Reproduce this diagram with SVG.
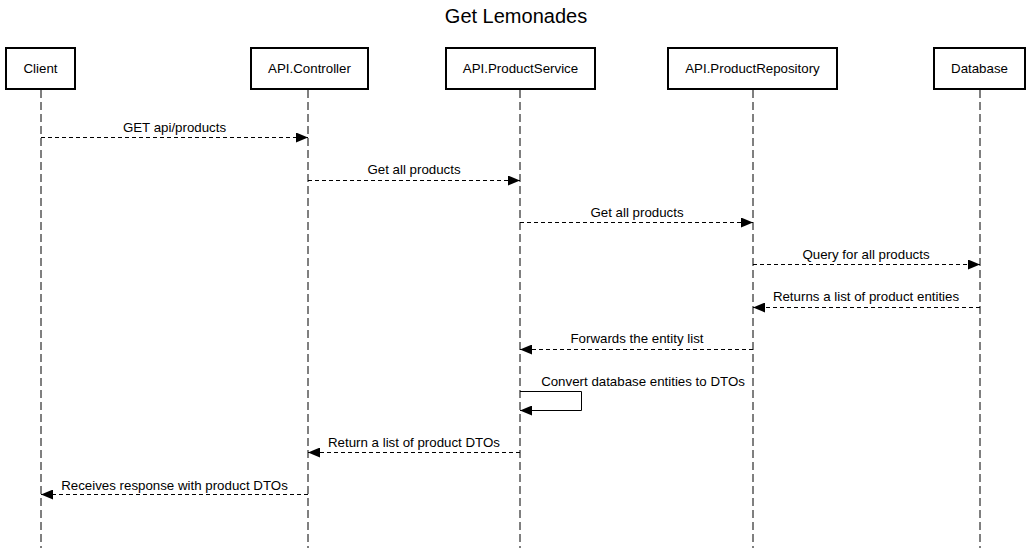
<svg xmlns="http://www.w3.org/2000/svg" width="1032" height="548" viewBox="0 0 1032 548">
<style>
.box{fill:#fff;stroke:#000;stroke-width:2}
.life{stroke:#000;stroke-width:1;stroke-dasharray:8 4;fill:none}
.msg{stroke:#000;stroke-width:1;stroke-dasharray:4 3;fill:none}
.self{stroke:#000;stroke-width:1;fill:none}
text{font-family:"Liberation Sans",Arial,sans-serif;font-size:13.3px;fill:#000;text-anchor:middle}
.title{font-size:20px}
</style>
<defs>
<marker id="ah" viewBox="0 0 12 10" refX="12" refY="5" markerWidth="12" markerHeight="10" markerUnits="userSpaceOnUse" orient="auto">
<path d="M0,0 L12,5 L0,10 Z" fill="#000"/>
</marker>
</defs>
<rect width="1032" height="548" fill="#fff"/>
<text class="title" x="516" y="23">Get Lemonades</text>
<g id="client">
<rect class="box" x="6" y="48" width="69" height="41"/>
<line class="life" x1="41" y1="90" x2="41" y2="548"/>
<text x="40.5" y="73">Client</text>
</g>
<g id="controller">
<rect class="box" x="251" y="48" width="117" height="41"/>
<line class="life" x1="308" y1="90" x2="308" y2="548"/>
<text x="309.5" y="73">API.Controller</text>
</g>
<g id="service">
<rect class="box" x="446" y="48" width="149" height="41"/>
<line class="life" x1="520" y1="90" x2="520" y2="548"/>
<text x="520.5" y="73">API.ProductService</text>
</g>
<g id="repository">
<rect class="box" x="668" y="48" width="169" height="41"/>
<line class="life" x1="753" y1="90" x2="753" y2="548"/>
<text x="752.5" y="73">API.ProductRepository</text>
</g>
<g id="database">
<rect class="box" x="934" y="48" width="91" height="41"/>
<line class="life" x1="980" y1="90" x2="980" y2="548"/>
<text x="979.5" y="73">Database</text>
</g>
<g id="connectors">
<line class="msg" x1="41" y1="137.5" x2="308" y2="137.5" marker-end="url(#ah)"/>
<text x="174.5" y="132">GET api/products</text>
<line class="msg" x1="308" y1="180.5" x2="520" y2="180.5" marker-end="url(#ah)"/>
<text x="414" y="174">Get all products</text>
<line class="msg" x1="520" y1="222.5" x2="753" y2="222.5" marker-end="url(#ah)"/>
<text x="637" y="217">Get all products</text>
<line class="msg" x1="753" y1="264.5" x2="980" y2="264.5" marker-end="url(#ah)"/>
<text x="866" y="259">Query for all products</text>
<line class="msg" x1="980" y1="307.5" x2="753" y2="307.5" marker-end="url(#ah)"/>
<text x="866" y="301">Returns a list of product entities</text>
<line class="msg" x1="753" y1="349.5" x2="520" y2="349.5" marker-end="url(#ah)"/>
<text x="637" y="343">Forwards the entity list</text>
<path class="self" d="M520,391.5 H581.5 V410.5 H520" marker-end="url(#ah)"/>
<text x="643" y="386">Convert database entities to DTOs</text>
<line class="msg" x1="520" y1="452.5" x2="308" y2="452.5" marker-end="url(#ah)"/>
<text x="414" y="447">Return a list of product DTOs</text>
<line class="msg" x1="308" y1="494.5" x2="41" y2="494.5" marker-end="url(#ah)"/>
<text x="174.5" y="490">Receives response with product DTOs</text>
</g>
</svg>
